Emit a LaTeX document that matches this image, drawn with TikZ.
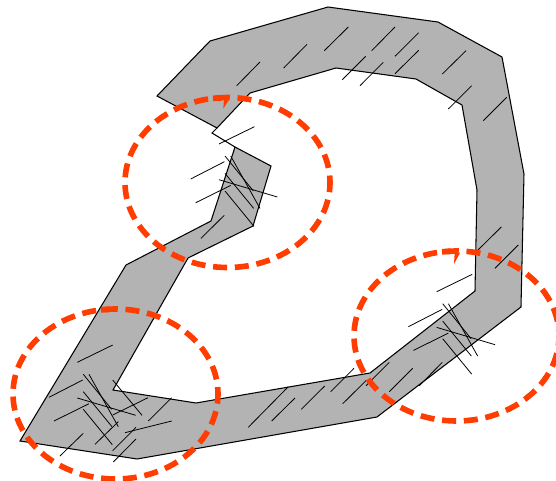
\documentclass[tikz,border=0pt]{standalone}
\usepackage{xcolor}
\definecolor{bandgray}{HTML}{B3B3B3}
\definecolor{ringred}{HTML}{FF3D00}
\tikzset{
  band/.style={draw=black, fill=bandgray, line width=0.6pt, line join=miter},
  hatch/.style={draw=black, line width=0.45pt},
  ring/.style={draw=ringred, line width=3.2pt, dash pattern=on 8pt off 4.39pt, dash phase=2.5pt},
  ringstub/.style={draw=ringred, line width=3.2pt}
}
\begin{document}
\begin{tikzpicture}[x=0.02cm, y=-0.02cm]
  \useasboundingbox (0,0) rectangle (556,481);

  % -- Grey band --
  \draw[band] (20,441) -- (137,459) -- (377,417) -- (521,307) -- (524,174)
    -- (502,57) -- (438,22) -- (328,7) -- (210,41) -- (157,96) -- (217,128)
    -- (250,93) -- (336,68) -- (416,79) -- (462,105) -- (477,190) -- (475,291)
    -- (370,373) -- (196,403) -- (113,390) -- (188,258) -- (253,226)
    -- (271,166) -- (235,147) -- (211,221) -- (126,265) -- cycle;

  % -- Slit at the open end --
  \draw[hatch, line width=0.6pt] (217,128) -- (212,133) -- (235,147);

  % -- Short strokes along the band --
  \foreach \xa/\ya/\xb/\yb in {
    236.7/85.7/260/62, 283.7/68/307/44.3, 324.3/50.7/348.3/27,
    342.3/79.7/365.7/56.3, 360/85.7/383.3/62.3, 371.7/50.7/395/27,
    395/56.3/418.7/32.7, 395/73.7/418.7/50.3, 442.3/74/466/50.7,
    448.3/109/471.7/85.7, 483.3/120.7/506.7/97.3, 478/250/501.3/227,
    495/268.3/518.3/245, 366/385.7/389.3/362.3, 389.3/391.7/412.7/368.3,
    419.3/385.7/442.3/362.3, 248.3/427.3/288.3/386.7, 271.7/421/295/398,
    301.3/409.3/324.7/386, 330.7/391.7/354/368.3, 342.7/403.7/366.7/380,
    201/238.3/224.3/215.3, 60/456/83.3/433.3, 95/444.3/118.3/421.7,
    112.7/450.7/136/427.3, 113.3/462/136/439, 148.3/421/171.7/397.7,
    112.7/380/142/415.3, 112.7/415/148/397.7, 125/432.7/171.7/421}
    \draw[hatch] (\xa,\ya) -- (\xb,\yb);

  % -- Crossing strokes, same group three times --
  \foreach \dx/\dy in {0/0, 141.7/-218.3, 359.4/-70.6} {
    \begin{scope}[shift={(\dx,\dy)}]
      \draw[hatch] (77.3,362.3) -- (112.7,345);
      \draw[hatch] (49,397.3) -- (82.7,380);
      \draw[hatch] (54,421) -- (89,403.7);
      \draw[hatch] (83.3,374.3) -- (111.7,409.3);
      \draw[hatch] (89,374.3) -- (118.3,426.7);
      \draw[hatch] (83.3,391.7) -- (112,426.7);
      \draw[hatch] (77.3,398) -- (135.7,415.3);
      \draw[hatch] (83.3,409.3) -- (112.3,444.7);
    \end{scope}
  }

  % -- Dashed rings --
  \foreach \cx/\cy in {115.5/394, 227.5/182.5, 456.5/336} {
    \draw[ring] (\cx,\cy) ellipse [x radius=102.5, y radius=85];
    \draw[ringstub] ([shift={(-14.5,-84.2)}]\cx,\cy) -- ([shift={(-6,-84.6)}]\cx,\cy);
  }

  % -- Small marks under the rings --
  \fill[ringred] (224,99) -- (229.5,99) -- (223.3,108.5) -- cycle;
  \fill[ringred] (454.7,252.5) -- (460.2,252.5) -- (454,264) -- cycle;
\end{tikzpicture}
\end{document}
